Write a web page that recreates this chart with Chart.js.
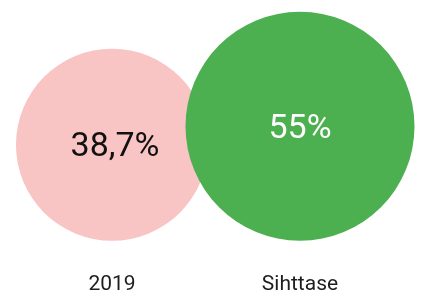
<!DOCTYPE html>
<html>
<head>
<meta charset="utf-8">
<script src="https://cdn.jsdelivr.net/npm/chart.js@4"></script>
<style>
  html, body { margin: 0; padding: 0; background: #fff; }
  #wrap { width: 427px; height: 304px; }
</style>
</head>
<body>
<div id="wrap"><canvas id="bubbles"></canvas></div>
<script>
    const categories = ['2019', 'Sihttase'];
    const values = [38.7, 55];

    const fillColors = ['#f8c4c4', '#4caf50'];
    const textColors = ['#111111', '#ffffff'];
    const MAX_R = 114.5; // radius of the largest circle, px

    const maxValue = Math.max(...values);
    const points = values.map((v, i) => ({
      x: categories[i],
      y: 0,
      r: MAX_R * Math.sqrt(v / maxValue)
    }));

    // circles sit on the baseline: lift every bubble by its radius
    const sitOnBase = {
      id: 'sitOnBase',
      afterDatasetsUpdate(chart) {
        const base = chart.scales.y.getPixelForValue(0);
        chart.getDatasetMeta(0).data.forEach(el => {
          el.y = base - el.options.radius;
        });
      }
    };

    // percentage text in the middle of each circle
    const centerText = {
      id: 'centerText',
      afterDatasetsDraw(chart) {
        const c = chart.ctx;
        c.save();
        c.font = '34px Roboto';
        c.textAlign = 'center';
        c.textBaseline = 'middle';
        chart.getDatasetMeta(0).data.forEach((el, i) => {
          c.fillStyle = textColors[i];
          c.fillText(String(values[i]).replace('.', ',') + '%', el.x + (i === 0 ? 3 : 0), el.y + 3);
        });
        c.restore();
      }
    };

    const ctx = document.getElementById('bubbles').getContext('2d');
    new Chart(ctx, {
      type: 'bubble',
      data: {
        labels: categories,
        datasets: [{
          data: points,
          backgroundColor: fillColors,
          borderWidth: 0,
          hoverBorderWidth: 0,
          clip: false
        }]
      },
      options: {
        responsive: true,
        maintainAspectRatio: false,
        animation: false,
        layout: { autoPadding: false, padding: { left: 18, right: 33, top: 0, bottom: -24 } },
        plugins: {
          legend: { display: false },
          tooltip: { enabled: false }
        },
        scales: {
          x: {
            type: 'category',
            offset: true,
            grid: { display: false, drawTicks: false },
            border: { display: false },
            ticks: {
              padding: 31,
              color: '#1e1e1e',
              font: { family: 'Roboto', size: 21 }
            }
          },
          y: {
            display: false,
            min: 0,
            max: 1
          }
        }
      },
      plugins: [sitOnBase, centerText]
    });
</script>
</body>
</html>
